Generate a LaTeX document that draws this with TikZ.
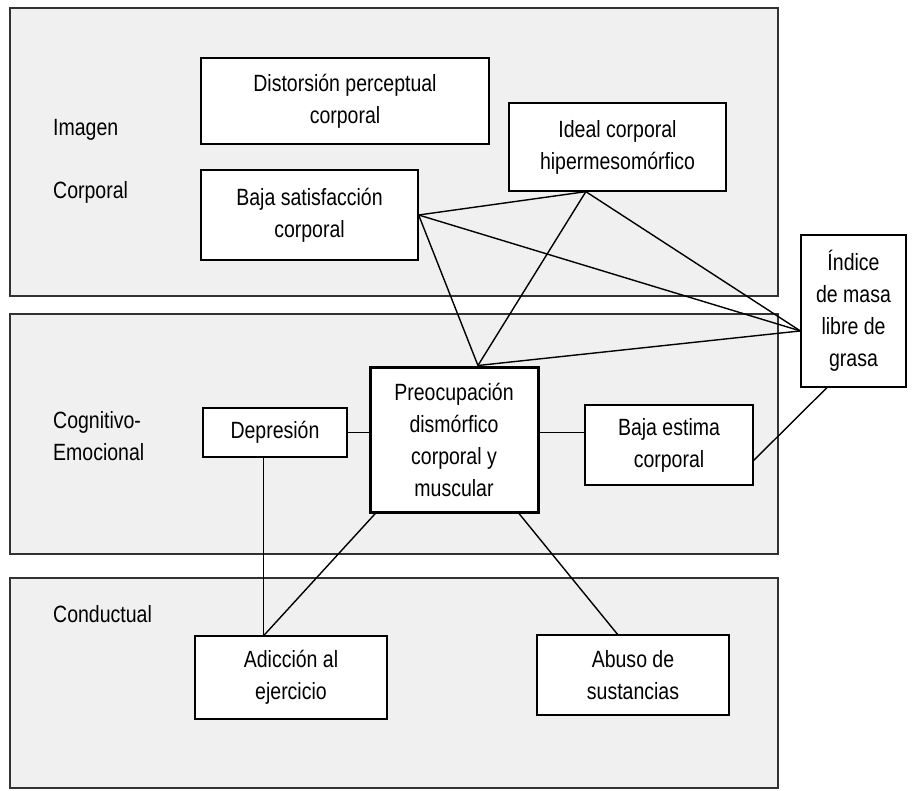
\documentclass[tikz,border=0pt]{standalone}
\usepackage{fontspec}
\setmainfont[FakeStretch=0.83]{Liberation Sans}
\definecolor{fondopanel}{RGB}{240,240,240}
\definecolor{bordepanel}{RGB}{50,50,50}
\usetikzlibrary{calc}

\begin{document}
\begin{tikzpicture}[
  x=1pt, y=-1pt,
  every node/.style={font=\fontsize{23.5}{32}\selectfont},
  panel/.style={
    draw=bordepanel, line width=1.3pt,
    fill=fondopanel},
  caja/.style={
    rectangle, draw=black, line width=1.3pt,
    fill=white, align=center, inner sep=0pt},
  cajacentral/.style={
    caja, line width=3pt},
  etiq/.style={
    anchor=west, align=left, inner sep=0pt},
  enlace/.style={
    draw=black, line width=1.4pt}
]
  \useasboundingbox (0,0) rectangle (915,791);

  %% ── Paneles ───────────────────────────────────────────────
  \draw[panel] (10,8)   rectangle (778,296);
  \draw[panel] (10,314) rectangle (778,554);
  \draw[panel] (10,578) rectangle (778,788);

  \node[etiq](imagen)     at (53,130) {Imagen};
  \node[etiq](corporal)   at (53,192) {Corporal};
  \node[etiq](cognitivo)  at (53,436) {Cognitivo-\\Emocional};
  \node[etiq](conductual) at (53,614) {Conductual};

  %% ── Nodos ─────────────────────────────────────────────────
  \node[caja, minimum width=288pt, minimum height=86pt]
    (distorsion) at (345,101) {Distorsión perceptual\\corporal};

  \node[caja, minimum width=217pt, minimum height=88pt]
    (ideal) at (617.5,147) {Ideal corporal\\hipermesomórfico};

  \node[caja, minimum width=217pt, minimum height=90pt]
    (satisf) at (309.5,215) {Baja satisfacción\\corporal};

  \node[caja, minimum width=105pt, minimum height=152pt]
    (indice) at (853.5,311) {Índice\\de masa\\libre de\\grasa};

  \node[cajacentral, minimum width=168pt, minimum height=145pt]
    (preocup) at (454,439.5) {Preocupación\\dismórfico\\corporal y\\muscular};

  \node[caja, minimum width=144pt, minimum height=49pt]
    (depresion) at (275,432.5) {Depresión};

  \node[caja, minimum width=168pt, minimum height=80pt]
    (estima) at (669,445) {Baja estima\\corporal};

  \node[caja, minimum width=192pt, minimum height=83pt]
    (adiccion) at (291,677.5) {Adicción al\\ejercicio};

  \node[caja, minimum width=192pt, minimum height=80pt]
    (abuso) at (633,675) {Abuso de\\sustancias};

  %% ── Puntos de enlace ──────────────────────────────────────
  \coordinate (ideal-s)  at ($(ideal.south west)!0.355!(ideal.south east)$);
  \coordinate (preo-n)   at ($(preocup.north west)!0.64!(preocup.north east)$);
  \coordinate (preo-sw)  at ($(preocup.south west)!0.04!(preocup.south east)$);
  \coordinate (preo-se)  at ($(preocup.south west)!0.88!(preocup.south east)$);
  \coordinate (indice-w) at ($(indice.north west)!0.63!(indice.south west)$);
  \coordinate (indice-s) at ($(indice.south west)!0.25!(indice.south east)$);
  \coordinate (estima-e) at ($(estima.north east)!0.69!(estima.south east)$);
  \coordinate (dep-s)    at ($(depresion.south west)!0.42!(depresion.south east)$);
  \coordinate (adic-n)   at ($(adiccion.north west)!0.36!(adiccion.north east)$);
  \coordinate (abuso-n)  at ($(abuso.north west)!0.42!(abuso.north east)$);

  %% ── Imagen corporal: red de enlaces ───────────────────────
  \draw[enlace] (satisf.east) -- (ideal-s);
  \draw[enlace] (satisf.east) -- (indice-w);
  \draw[enlace] (satisf.east) -- (preo-n);
  \draw[enlace] (ideal-s) -- (preo-n);
  \draw[enlace] (ideal-s) -- (indice-w);
  \draw[enlace] (preo-n) -- (indice-w);
  \draw[enlace] (indice-s) -- (estima-e);

  %% ── Cognitivo-emocional ───────────────────────────────────
  \draw[enlace] (depresion.east) -- (depresion.east -| preocup.west);
  \draw[enlace] (preocup.east |- depresion.east) -- (estima.west |- depresion.east);

  %% ── Conductual ────────────────────────────────────────────
  \draw[enlace] (dep-s) -- (dep-s |- adiccion.north);
  \draw[enlace] (preo-sw) -- (adic-n);
  \draw[enlace] (preo-se) -- (abuso-n);

\end{tikzpicture}
\end{document}
